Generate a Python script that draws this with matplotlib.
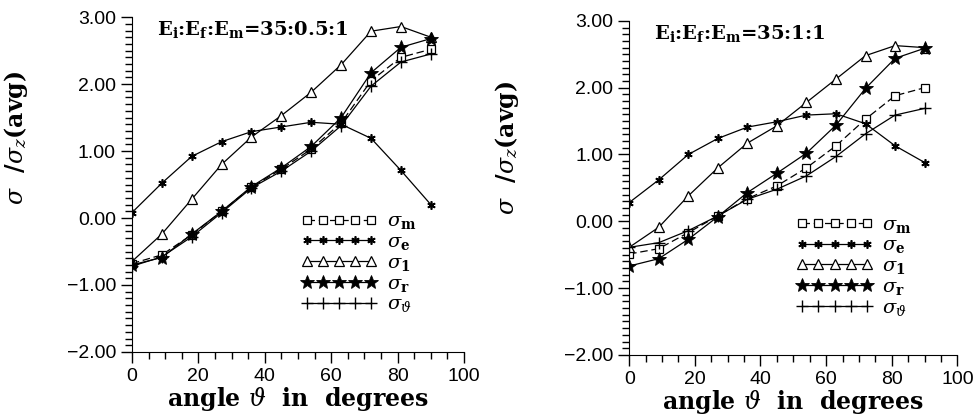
import numpy as np
import matplotlib
matplotlib.use("Agg")
import matplotlib.pyplot as plt
from matplotlib.ticker import MultipleLocator, FuncFormatter

plt.rcParams['mathtext.fontset'] = 'dejavuserif'

# angle positions (degrees)
angle = [0, 9, 18, 27, 36, 45, 54, 63, 72, 81, 90]

# left panel  Ei:Ef:Em = 35:0.5:1
left_m = [-0.68, -0.55, -0.25, 0.10, 0.46, 0.73, 1.03, 1.42, 2.05, 2.40, 2.52]
left_e = [0.08, 0.52, 0.92, 1.14, 1.29, 1.36, 1.43, 1.40, 1.19, 0.71, 0.20]
left_1 = [-0.65, -0.24, 0.28, 0.80, 1.21, 1.53, 1.88, 2.29, 2.79, 2.86, 2.70]
left_r = [-0.70, -0.59, -0.24, 0.10, 0.47, 0.75, 1.07, 1.50, 2.17, 2.55, 2.68]
left_t = [-0.72, -0.58, -0.28, 0.08, 0.45, 0.70, 1.00, 1.38, 1.97, 2.33, 2.45]

# right panel  Ei:Ef:Em = 35:1:1
right_m = [-0.49, -0.41, -0.17, 0.08, 0.34, 0.53, 0.80, 1.13, 1.53, 1.88, 2.00]
right_e = [0.28, 0.62, 1.00, 1.24, 1.41, 1.49, 1.59, 1.61, 1.46, 1.13, 0.88]
right_1 = [-0.39, -0.09, 0.38, 0.80, 1.17, 1.43, 1.78, 2.13, 2.48, 2.63, 2.60]
right_r = [-0.67, -0.56, -0.27, 0.07, 0.43, 0.72, 1.02, 1.44, 1.99, 2.44, 2.59]
right_t = [-0.39, -0.32, -0.14, 0.08, 0.33, 0.48, 0.68, 0.97, 1.31, 1.59, 1.69]

labels = [r'$\sigma_{\mathbf{m}}$', r'$\sigma_{\mathbf{e}}$', r'$\sigma_{\mathbf{1}}$',
          r'$\sigma_{\mathbf{r}}$', r'$\sigma_{\vartheta}$']

titles = [r'E$_\mathbf{i}$:E$_\mathbf{f}$:E$_\mathbf{m}$=35:0.5:1',
          r'E$_\mathbf{i}$:E$_\mathbf{f}$:E$_\mathbf{m}$=35:1:1']

fig = plt.figure(figsize=(9.77, 4.18), dpi=100)
ax1 = fig.add_axes([0.135, 0.158, 0.340, 0.801])
ax2 = fig.add_axes([0.644, 0.151, 0.336, 0.799])


def fmt(v, pos):
    return ('%.2f' % v).replace('-', '\u2212')


def panel(ax, ys, title, ylab_pos):
    sm, se, s1, sr, st = ys
    ax.plot(angle, sm, color='k', lw=0.9, ls=(0, (6, 3)), marker='s', ms=6,
            mfc='white', mec='k', mew=0.9, label=labels[0])
    ax.plot(angle, se, color='k', lw=0.9, marker=(6, 2, 0), ms=6,
            mec='k', mew=1.2, label=labels[1])
    ax.plot(angle, s1, color='k', lw=0.9, marker='^', ms=7,
            mfc='white', mec='k', mew=0.9, label=labels[2])
    ax.plot(angle, sr, color='k', lw=0.9, marker='*', ms=10,
            mfc='k', mec='k', mew=0.6, label=labels[3])
    ax.plot(angle, st, color='k', lw=0.9, marker='+', ms=8,
            mec='k', mew=1.0, label=labels[4])

    ax.set_xlim(0, 100)
    ax.set_ylim(-2, 3)
    ax.spines['top'].set_visible(False)
    ax.spines['right'].set_visible(False)
    ax.xaxis.set_major_locator(MultipleLocator(20))
    ax.xaxis.set_minor_locator(MultipleLocator(5))
    ax.yaxis.set_major_locator(MultipleLocator(1))
    ax.yaxis.set_minor_locator(MultipleLocator(0.1))
    ax.yaxis.set_major_formatter(FuncFormatter(fmt))
    ax.tick_params(which='major', length=8, width=1, labelsize=14)
    ax.tick_params(which='minor', length=5, width=1)
    for lab in ax.get_xticklabels() + ax.get_yticklabels():
        lab.set_family('Liberation Sans')

    ax.set_xlabel(r'angle $\vartheta$  in  degrees', family='DejaVu Serif',
                  fontweight='bold', fontsize=17, labelpad=0)
    ax.set_ylabel(r'$\sigma$  /$\sigma_z$(avg)', family='DejaVu Serif',
                  fontweight='bold', fontsize=17)
    ax.yaxis.set_label_coords(*ylab_pos)
    ax.text(0.075, 0.995, title, transform=ax.transAxes, family='DejaVu Serif',
            fontweight='bold', fontsize=14, va='top', ha='left')

    leg = ax.legend(loc='upper left', bbox_to_anchor=(0.51, 0.42), numpoints=5,
                    handlelength=3.9, frameon=False, fontsize=14,
                    labelspacing=0.04, handletextpad=0.5, borderpad=0,
                    borderaxespad=0)
    return leg


panel(ax1, [left_m, left_e, left_1, left_r, left_t], titles[0], (-0.307, 0.64))
panel(ax2, [right_m, right_e, right_1, right_r, right_t], titles[1], (-0.33, 0.62))

fig.savefig('out.png', dpi=100)
